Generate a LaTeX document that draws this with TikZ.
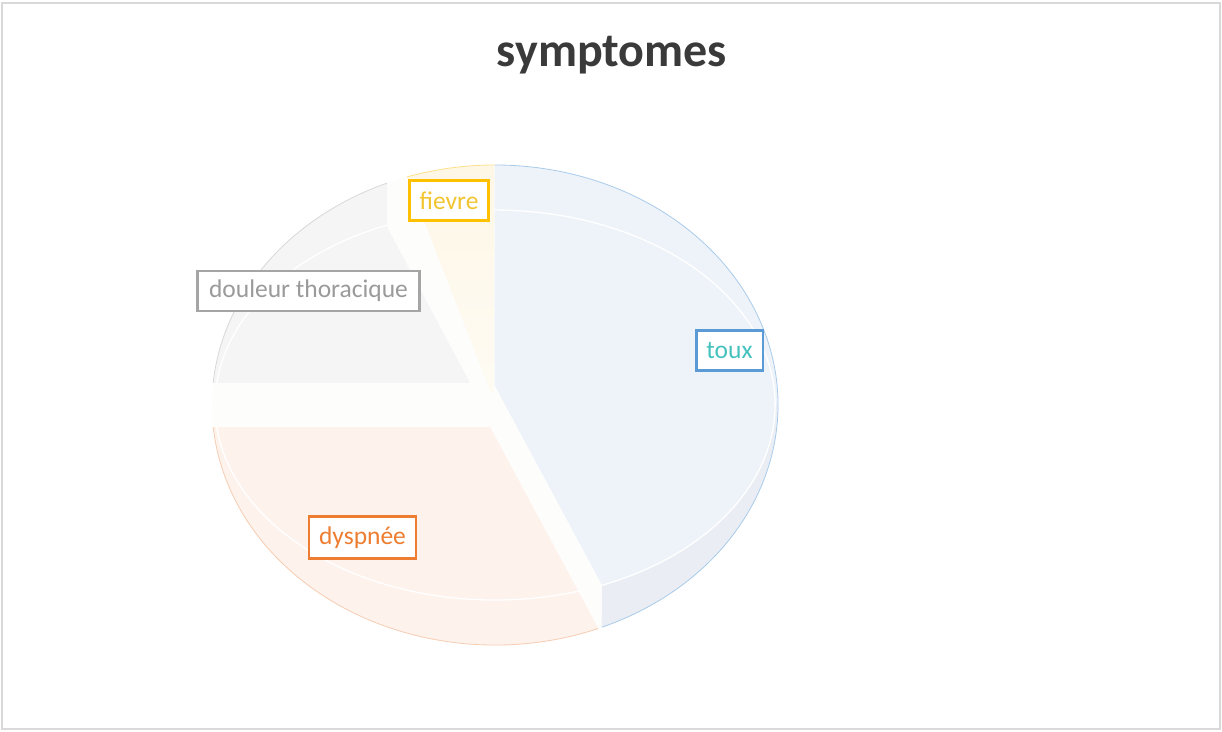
\documentclass[tikz,border=0pt]{standalone}
\usepackage{fontspec}
\setmainfont{Carlito}
\definecolor{framec}{HTML}{D9D9D9}
\definecolor{bandc}{HTML}{FDFDFC}
\definecolor{touxc}{HTML}{EEF3FA}
\definecolor{touxside}{HTML}{EAEEF4}
\definecolor{dysc}{HTML}{FDF2EC}
\definecolor{douc}{HTML}{F5F5F5}
\definecolor{fievc}{HTML}{FEF7E6}
\definecolor{fievlow}{HTML}{FEFBF3}
\definecolor{touxline}{HTML}{A9CBEA}
\definecolor{dysline}{HTML}{F6CDB3}
\definecolor{douline}{HTML}{D8D8D8}
\definecolor{fievline}{HTML}{FFE08A}
\definecolor{titlec}{HTML}{3A3A3A}
\definecolor{fievb}{HTML}{FFC000}
\definecolor{fievt}{HTML}{F2C530}
\definecolor{doub}{HTML}{A5A5A5}
\definecolor{dout}{HTML}{9A9A9A}
\definecolor{touxb}{HTML}{5B9BD5}
\definecolor{touxt}{HTML}{45C2BE}
\definecolor{dysb}{HTML}{ED7D31}
\tikzset{
  lbl/.style={draw, fill=white, line width=2.2pt, font=\fontsize{25.5}{30}\selectfont,
    inner xsep=10pt, inner ysep=0pt, minimum height=40pt},
  Oarc/.style={x radius=283pt, y radius=240pt},
  Rarc/.style={x radius=280pt, y radius=195pt},
  rim/.style={white, line width=1.3pt}
}
\begin{document}
\begin{tikzpicture}[x=1pt,y=1pt]
\useasboundingbox (0,0) rectangle (1222,731);
\draw[framec, line width=1.5pt] (2,2) rectangle (1220,728);

% title
\node[anchor=base, font=\fontsize{48}{56}\selectfont\bfseries, text=titlec] (title) at (612,664) {symptomes};

% pie silhouette (gaps)
\coordinate (C) at (495,326);
\fill[bandc] (C) ellipse [x radius=283pt, y radius=240pt];

% toux
\fill[touxc] (494.5,566) -- (494.5,346) -- (602,146) -- (601.9,103.8)
  arc[start angle=-67.8, end angle=90, Oarc] -- cycle;
\fill[touxside] (602.2,145.8) arc[start angle=-67.5, end angle=0, Rarc]
  -- (778,326) arc[start angle=0, end angle=-67.8, Oarc] -- cycle;
\draw[touxline, line width=0.8pt] (601.9,103.8) arc[start angle=-67.8, end angle=90, Oarc];
\draw[rim] (602.2,145.8) arc[start angle=-67.5, end angle=90, Rarc];

% dyspnee
\fill[dysc] (213.2,303.8) -- (490,304) -- (598.3,102.5)
  arc[start angle=-68.6, end angle=-174.7, Oarc] -- cycle;
\draw[dysline, line width=0.8pt] (598.3,102.5) arc[start angle=-68.6, end angle=-174.7, Oarc];
\draw[rim] (216.8,303.9) arc[start angle=186.5, end angle=288, Rarc];

% douleur thoracique
\fill[douc] (213.2,348.2) -- (470,348) -- (387,504) -- (387.1,547.9)
  arc[start angle=112.4, end angle=174.7, Oarc] -- cycle;
\draw[douline, line width=0.8pt] (387.1,547.9) arc[start angle=112.4, end angle=174.7, Oarc];
\draw[rim] (386.9,505.9) arc[start angle=112.7, end angle=173.5, Rarc];

% fievre
\shade[top color=fievc, bottom color=fievlow] (407.1,554.1) -- (491,338) -- (494.5,338) -- (494.5,566)
  arc[start angle=90.1, end angle=108.1, Oarc] -- cycle;
\draw[fievline, line width=0.8pt] (494.5,566) arc[start angle=90.1, end angle=108.1, Oarc];

% labels
\node[lbl, draw=fievb, text=fievt] (fievre) at (449,530.5) {fievre};
\node[lbl, draw=doub, text=dout, inner xsep=11.5pt] (douleur) at (308.5,440) {douleur thoracique};
\node[lbl, draw=touxb, text=touxt] (toux) at (729.5,380.5) {toux};
\node[lbl, draw=dysb, text=dysb, minimum height=42pt] (dyspnee) at (362.5,193.5) {dyspnée};
\end{tikzpicture}
\end{document}
